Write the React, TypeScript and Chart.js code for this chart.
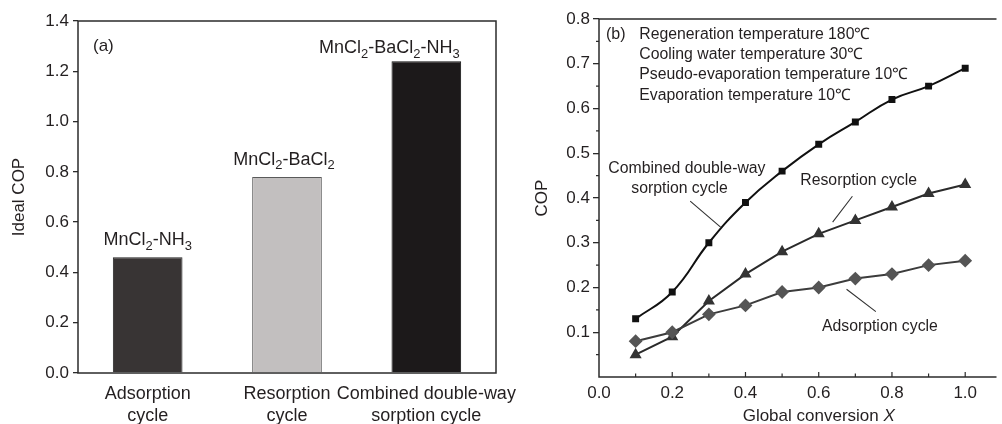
import React, { useEffect, useRef } from 'react';
import { Chart, registerables } from 'chart.js';

Chart.register(...registerables);

// ---------- Panel (a) data ----------
const barCategories: string[][] = [
  ['Adsorption', 'cycle'],
  ['Resorption', 'cycle'],
  ['Combined double-way', 'sorption cycle'],
];
const barValues = [0.46, 0.78, 1.24];
const barYTicks = [0, 0.2, 0.4, 0.6, 0.8, 1.0, 1.2, 1.4];
type Seg = { t: string; sub?: boolean };
const barLabels: Seg[][] = [
  [{ t: 'MnCl' }, { t: '2', sub: true }, { t: '-NH' }, { t: '3', sub: true }],
  [{ t: 'MnCl' }, { t: '2', sub: true }, { t: '-BaCl' }, { t: '2', sub: true }],
  [{ t: 'MnCl' }, { t: '2', sub: true }, { t: '-BaCl' }, { t: '2', sub: true }, { t: '-NH' }, { t: '3', sub: true }],
];
const panelATag = '(a)';
const panelAYTitle = 'Ideal COP';

// ---------- Panel (b) data ----------
const convX = [0.1, 0.2, 0.3, 0.4, 0.5, 0.6, 0.7, 0.8, 0.9, 1.0];
const copCombined = [0.13, 0.19, 0.30, 0.39, 0.46, 0.52, 0.57, 0.62, 0.65, 0.69];
const copResorption = [0.05, 0.09, 0.17, 0.23, 0.28, 0.32, 0.35, 0.38, 0.41, 0.43];
const copAdsorption = [0.08, 0.10, 0.14, 0.16, 0.19, 0.20, 0.22, 0.23, 0.25, 0.26];
const lineXTicks = [0, 0.2, 0.4, 0.6, 0.8, 1.0];
const lineYTicks = [0.1, 0.2, 0.3, 0.4, 0.5, 0.6, 0.7, 0.8];
const panelBTag = '(b)';
const conditionLines = [
  'Regeneration temperature 180℃',
  'Cooling water temperature 30℃',
  'Pseudo-evaporation temperature 10℃',
  'Evaporation temperature 10℃',
];
const panelBYTitle = 'COP';
const panelBXTitle = 'Global conversion ';
const panelBXTitleVar = 'X';

// ---------- styles ----------
const FONT = "'Liberation Sans', Arial, Helvetica, sans-serif";
const TEXT = '#231f20';
const AXIS = '#2b2b2b';

function drawRich(ctx: CanvasRenderingContext2D, segs: Seg[], cx: number, baseline: number, size: number) {
  const subSize = size * 0.72;
  let total = 0;
  const widths = segs.map((s) => {
    ctx.font = `${s.sub ? subSize : size}px ${FONT}`;
    const w = ctx.measureText(s.t).width;
    total += w;
    return w;
  });
  let x = cx - total / 2;
  ctx.textAlign = 'left';
  ctx.textBaseline = 'alphabetic';
  segs.forEach((s, i) => {
    ctx.font = `${s.sub ? subSize : size}px ${FONT}`;
    ctx.fillText(s.t, x, baseline + (s.sub ? size * 0.24 : 0));
    x += widths[i];
  });
}

const barLabelShift = [0, -3, -37];
const barLabelGap = [12, 12, 8];

const panelAPlugin = {
  id: 'panelA',
  afterDraw(chart: any) {
    const { ctx, chartArea } = chart;
    const { left, right, top, bottom } = chartArea;
    ctx.save();
    ctx.strokeStyle = AXIS;
    ctx.lineWidth = 1.5;
    ctx.strokeRect(left, top, right - left, bottom - top);
    ctx.fillStyle = TEXT;
    const meta = chart.getDatasetMeta(0);
    meta.data.forEach((bar: any, i: number) => {
      drawRich(ctx, barLabels[i], bar.x + barLabelShift[i], bar.y - barLabelGap[i], 18);
    });
    ctx.font = `17px ${FONT}`;
    ctx.textAlign = 'left';
    ctx.textBaseline = 'middle';
    ctx.fillText(panelATag, left + 15, top + 25);
    ctx.save();
    ctx.translate(19.5, (top + bottom) / 2);
    ctx.rotate(-Math.PI / 2);
    ctx.textAlign = 'center';
    ctx.textBaseline = 'middle';
    ctx.font = `17px ${FONT}`;
    ctx.fillText(panelAYTitle, 0, 0);
    ctx.restore();
    ctx.restore();
  },
};

const panelBPlugin = {
  id: 'panelB',
  afterDraw(chart: any) {
    const { ctx, chartArea, scales } = chart;
    const { left, right, top, bottom } = chartArea;
    const xs = scales.x;
    const ys = scales.y;
    const px = (v: number) => xs.getPixelForValue(v);
    const py = (v: number) => ys.getPixelForValue(v);
    ctx.save();
    ctx.strokeStyle = AXIS;
    ctx.lineWidth = 1.5;
    ctx.beginPath();
    ctx.moveTo(right + 2, top);
    ctx.lineTo(left, top);
    ctx.lineTo(left, bottom);
    ctx.lineTo(right + 2, bottom);
    ctx.stroke();
    ctx.lineWidth = 1.2;
    ctx.beginPath();
    for (let k = 0; k < 8; k++) {
      const v = 0.05 + k * 0.1;
      ctx.moveTo(left, py(v));
      ctx.lineTo(left - 3, py(v));
    }
    for (let k = 1; k <= 10; k++) {
      const v = k / 10;
      const len = k % 2 === 0 ? 5 : 3.5;
      ctx.moveTo(px(v), bottom);
      ctx.lineTo(px(v), bottom - len);
    }
    ctx.stroke();

    ctx.fillStyle = TEXT;
    ctx.font = `16px ${FONT}`;
    ctx.textAlign = 'left';
    ctx.textBaseline = 'middle';
    ctx.fillText(panelBTag, px(0.019), py(0.765));
    ctx.font = `15.8px ${FONT}`;
    conditionLines.forEach((s, i) => {
      ctx.fillText(s, px(0.11), py(0.765) + i * 20.2);
    });
    ctx.textAlign = 'center';
    ctx.fillText('Combined double-way', px(0.24), py(0.465));
    ctx.fillText('sorption cycle', px(0.22), py(0.422));
    ctx.fillText('Resorption cycle', px(0.709), py(0.438));
    ctx.fillText('Adsorption cycle', px(0.767), py(0.113));
    ctx.strokeStyle = '#333';
    ctx.lineWidth = 1.1;
    ctx.beginPath();
    ctx.moveTo(px(0.249), py(0.393));
    ctx.lineTo(px(0.332), py(0.335));
    ctx.moveTo(px(0.692), py(0.404));
    ctx.lineTo(px(0.638), py(0.346));
    ctx.moveTo(px(0.676), py(0.196));
    ctx.lineTo(px(0.756), py(0.146));
    ctx.stroke();
    ctx.font = `17px ${FONT}`;
    const t1 = panelBXTitle;
    ctx.textBaseline = 'middle';
    ctx.textAlign = 'left';
    const w1 = ctx.measureText(t1).width;
    ctx.font = `italic 17px ${FONT}`;
    const w2 = ctx.measureText(panelBXTitleVar).width;
    const sx = px(0.6) - (w1 + w2) / 2;
    ctx.font = `17px ${FONT}`;
    ctx.fillText(t1, sx, 416);
    ctx.font = `italic 17px ${FONT}`;
    ctx.fillText(panelBXTitleVar, sx + w1, 416);
    ctx.save();
    ctx.translate(left - 57, (top + bottom) / 2);
    ctx.rotate(-Math.PI / 2);
    ctx.textAlign = 'center';
    ctx.font = `17px ${FONT}`;
    ctx.fillText(panelBYTitle, 0, 0);
    ctx.restore();
    ctx.restore();
  },
};

export default function App() {
  const aRef = useRef<HTMLCanvasElement>(null);
  const bRef = useRef<HTMLCanvasElement>(null);

  useEffect(() => {
    const tickFont = { family: FONT, size: 17 };
    const chartA = new Chart(aRef.current as HTMLCanvasElement, {
      type: 'bar',
      data: {
        labels: barCategories as any,
        datasets: [
          {
            data: barValues,
            backgroundColor: ['#383434', '#c2bfbf', '#1c191a'],
            borderColor: ['#222', '#5a5a5a', '#111'],
            borderWidth: 1,
            barPercentage: 0.5,
            categoryPercentage: 1,
          },
        ],
      },
      options: {
        responsive: false,
        animation: false,
        layout: { padding: { left: 0, top: 21, right: 64, bottom: 0 } },
        plugins: { legend: { display: false }, tooltip: { enabled: false } },
        scales: {
          x: {
            grid: { display: false, drawTicks: false },
            border: { display: false },
            ticks: { font: { family: FONT, size: 18, lineHeight: 1.17 }, color: TEXT, padding: 11, maxRotation: 0, autoSkip: false },
            afterFit: (s: any) => { s.height = 51; },
          },
          y: {
            min: 0,
            max: 1.4,
            afterBuildTicks: (s: any) => { s.ticks = barYTicks.map((v) => ({ value: v })); },
            ticks: { font: tickFont, color: TEXT, padding: 4, callback: (v: any) => Number(v).toFixed(1) },
            grid: { display: true, drawOnChartArea: false, drawTicks: true, tickLength: 5, color: AXIS, lineWidth: 1.3 },
            border: { display: false },
            afterFit: (s: any) => { s.width = 78; },
          },
        },
      },
      plugins: [panelAPlugin],
    } as any);

    const pts = (ys: number[]) => convX.map((x, i) => ({ x, y: ys[i] }));
    const chartB = new Chart(bRef.current as HTMLCanvasElement, {
      type: 'line',
      data: {
        datasets: [
          {
            data: pts(copAdsorption),
            borderColor: '#3c3c3c',
            backgroundColor: '#555',
            pointBorderColor: '#555',
            borderWidth: 2,
            pointStyle: 'rectRot',
            pointRadius: 5.5,
            tension: 0,
          },
          {
            data: pts(copResorption),
            borderColor: '#2a2a2a',
            backgroundColor: '#333',
            pointBorderColor: '#333',
            borderWidth: 2,
            pointStyle: 'triangle',
            pointRadius: 5,
            tension: 0,
          },
          {
            data: pts(copCombined),
            borderColor: '#111',
            backgroundColor: '#111',
            pointBorderColor: '#111',
            borderWidth: 2,
            pointStyle: 'rect',
            pointRadius: 3.5,
            tension: 0.45,
          },
        ],
      },
      options: {
        responsive: false,
        animation: false,
        layout: { padding: { left: 0, top: 19, right: 0, bottom: 0 } },
        plugins: { legend: { display: false }, tooltip: { enabled: false } },
        scales: {
          x: {
            type: 'linear',
            min: 0,
            max: 1.08,
            afterBuildTicks: (s: any) => { s.ticks = lineXTicks.map((v) => ({ value: v })); },
            ticks: { font: tickFont, color: TEXT, padding: 6, maxRotation: 0, autoSkip: false, callback: (v: any) => Number(v).toFixed(1) },
            grid: { display: false, drawTicks: false },
            border: { display: false },
            afterFit: (s: any) => { s.height = 47; },
          },
          y: {
            min: 0,
            max: 0.8,
            afterBuildTicks: (s: any) => { s.ticks = lineYTicks.map((v) => ({ value: v })); },
            ticks: { font: tickFont, color: TEXT, padding: 3, callback: (v: any) => Number(v).toFixed(1) },
            grid: { display: true, drawOnChartArea: false, drawTicks: true, tickLength: 6, color: AXIS, lineWidth: 1.3 },
            border: { display: false },
            afterFit: (s: any) => { s.width = 139; },
          },
        },
      },
      plugins: [panelBPlugin],
    } as any);

    return () => {
      chartA.destroy();
      chartB.destroy();
    };
  }, []);

  return (
    <div style={{ position: 'absolute', left: 0, top: 0, width: 1002, height: 424, background: '#fff', overflow: 'hidden' }}>
      <canvas ref={aRef} width={560} height={424} style={{ position: 'absolute', left: 0, top: 0, width: 560, height: 424 }} />
      <canvas ref={bRef} width={542} height={424} style={{ position: 'absolute', left: 460, top: 0, width: 542, height: 424 }} />
    </div>
  );
}
